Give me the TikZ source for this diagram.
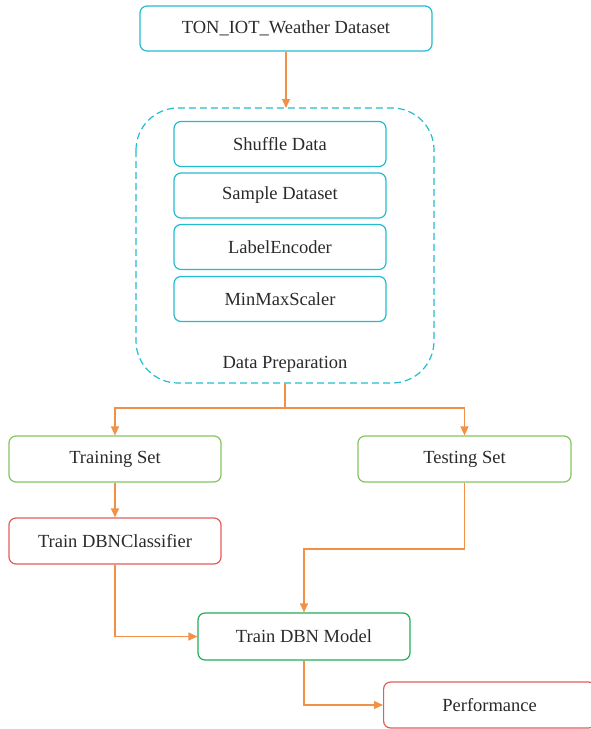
\documentclass[tikz,border=0pt]{standalone}
\usepackage{fontspec}
\setmainfont{Liberation Serif}
\usetikzlibrary{arrows.meta}
\definecolor{cyanline}{HTML}{22BCD0}
\definecolor{lightgreen}{HTML}{82C45E}
\definecolor{darkgreen}{HTML}{1FAE55}
\definecolor{redline}{HTML}{E45B5B}
\definecolor{orangeline}{HTML}{F39048}
\definecolor{textgray}{HTML}{2A2A2A}
\tikzset{
  box/.style={draw, rounded corners=7pt, line width=1.2pt, minimum width=212pt,
    minimum height=46pt, inner sep=0pt, text=textgray,
    font=\fontsize{18.5}{21}\selectfont},
  cyanbox/.style={box, draw=cyanline},
  greenbox/.style={box, draw=lightgreen},
  modelbox/.style={box, draw=darkgreen},
  redbox/.style={box, draw=redline},
  flow/.style={draw=orangeline, line width=1.2pt,
    -{Triangle[length=9pt,width=8pt]}},
  plain/.style={draw=orangeline, line width=1.2pt}
}
\begin{document}
\begin{tikzpicture}[x=1pt,y=-1pt]
  \useasboundingbox (0,0) rectangle (591,729);

  % source data
  \node[cyanbox, minimum width=292pt, minimum height=45pt] (src) at (286,28.5) {TON\_IOT\_Weather Dataset};

  % preparation group
  \draw[cyanline, line width=1.2pt, dash pattern=on 7pt off 4pt, rounded corners=42pt]
    (136,108) rectangle (434,383);
  \node[cyanbox, minimum height=45pt] (shuf) at (280,144) {Shuffle Data};
  \node[cyanbox, minimum height=45pt] (samp) at (280,195.5) {Sample Dataset};
  \node[cyanbox, minimum height=45pt] (lenc) at (280,247) {LabelEncoder};
  \node[cyanbox, minimum height=45pt] (mms) at (280,299) {MinMaxScaler};
  \node[text=textgray, font=\fontsize{18.5}{21}\selectfont] (prep) at (285,364) {Data Preparation};
  \coordinate (prepin) at (286,108);
  \coordinate (prepout) at (285,383);
  \coordinate (split) at (285,408);

  % data split
  \node[greenbox] (train) at (115,459) {Training Set};
  \node[greenbox, minimum width=213pt] (test) at (464.5,459) {Testing Set};
  \node[redbox] (clf) at (115,541) {Train DBNClassifier};
  \node[modelbox, minimum height=47pt] (model) at (304,636.5) {Train DBN Model};
  \node[redbox, anchor=west] (perf) at (383,705) {Performance};

  % connectors
  \draw[flow] (src.south) -- (prepin);
  \draw[plain] (prepout) -- (split);
  \draw[flow] (split) -| (train.north);
  \draw[flow] (split) -| (test.north);
  \draw[flow] (train.south) -- (clf.north);
  \draw[flow] (test.south) |- (304,549) -- (model.north);
  \draw[flow] (clf.south) |- (model.west);
  \draw[flow] (model.south) |- (perf.west);
\end{tikzpicture}
\end{document}
